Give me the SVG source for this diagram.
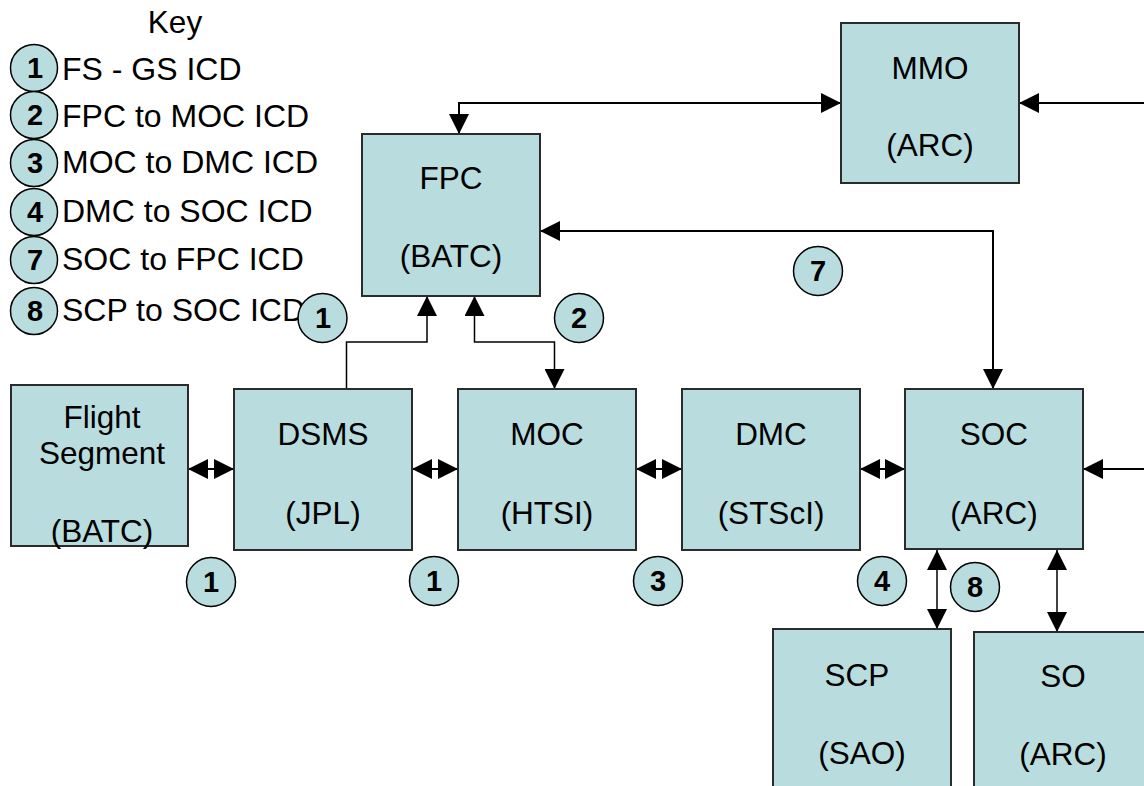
<svg xmlns="http://www.w3.org/2000/svg" width="1144" height="786" viewBox="0 0 1144 786">
<style>
  .box { fill: #B9DDDF; stroke: #2b2b2b; stroke-width: 2; }
  .t { font-family: "Liberation Sans", Arial, sans-serif; font-size: 31.5px; fill: #000; text-anchor: middle; }
  .k { font-family: "Liberation Sans", Arial, sans-serif; font-size: 32px; fill: #000; }
  .lc { fill: #B9DDDF; stroke: #000; stroke-width: 1.5; }
  .ln { font-family: "Liberation Sans", Arial, sans-serif; font-size: 29px; font-weight: bold; fill: #000; text-anchor: middle; }
  .c { fill: none; stroke: #000; stroke-width: 2; }
  .c2 { fill: none; stroke: #000; stroke-width: 1.5; }
</style>
<defs>
  <marker id="ah" markerUnits="userSpaceOnUse" markerWidth="20" markerHeight="20" refX="20" refY="10" orient="auto-start-reverse" viewBox="0 0 20 20">
    <path d="M0,0 L20,10 L0,20 Z" fill="#000"/>
  </marker>
</defs>
<rect width="1144" height="786" fill="#fff"/>

<g id="key">
  <text class="t" x="175" y="33">Key</text>
  <circle class="lc" cx="34" cy="68" r="23.5"/><text class="ln" x="35" y="78">1</text><text class="k" x="62" y="80">FS - GS ICD</text>
  <circle class="lc" cx="34" cy="115" r="23.5"/><text class="ln" x="35" y="125">2</text><text class="k" x="62" y="127">FPC to MOC ICD</text>
  <circle class="lc" cx="34" cy="163" r="23.5"/><text class="ln" x="35" y="173">3</text><text class="k" x="62" y="173">MOC to DMC ICD</text>
  <circle class="lc" cx="34" cy="212" r="23.5"/><text class="ln" x="35" y="222">4</text><text class="k" x="62" y="222">DMC to SOC ICD</text>
  <circle class="lc" cx="34" cy="260" r="23.5"/><text class="ln" x="35" y="270">7</text><text class="k" x="62" y="270">SOC to FPC ICD</text>
  <circle class="lc" cx="34" cy="311" r="23.5"/><text class="ln" x="35" y="321">8</text><text class="k" x="62" y="321">SCP to SOC ICD</text>
</g>

<g id="connectors">
  <line class="c" x1="188" y1="469" x2="234" y2="469" marker-start="url(#ah)" marker-end="url(#ah)"/>
  <line class="c" x1="412" y1="469" x2="458" y2="469" marker-start="url(#ah)" marker-end="url(#ah)"/>
  <line class="c" x1="636" y1="469" x2="682" y2="469" marker-start="url(#ah)" marker-end="url(#ah)"/>
  <line class="c" x1="860" y1="469" x2="905" y2="469" marker-start="url(#ah)" marker-end="url(#ah)"/>
  <line class="c" x1="1144" y1="469" x2="1083" y2="469" marker-end="url(#ah)"/>
  <line class="c" x1="1144" y1="103" x2="1019" y2="103" marker-end="url(#ah)"/>
  <path class="c" d="M459,134 L459,103 L841,103" marker-start="url(#ah)" marker-end="url(#ah)"/>
  <path class="c" d="M540,231 L993,231 L993,389" marker-start="url(#ah)" marker-end="url(#ah)"/>
  <path class="c2" d="M346.5,389 L346.5,342 L427,342 L427,296" marker-end="url(#ah)"/>
  <path class="c2" d="M474.5,296 L474.5,342 L554.5,342 L554.5,389" marker-start="url(#ah)" marker-end="url(#ah)"/>
  <line class="c2" x1="937" y1="550" x2="937" y2="629" marker-start="url(#ah)" marker-end="url(#ah)"/>
  <line class="c2" x1="1057" y1="550" x2="1057" y2="632" marker-start="url(#ah)" marker-end="url(#ah)"/>
</g>

<g id="mmo"><rect class="box" x="841" y="23" width="178" height="160"/><text class="t" x="930" y="79">MMO</text><text class="t" x="930" y="156">(ARC)</text></g>
<g id="fpc"><rect class="box" x="362" y="134" width="178" height="162"/><text class="t" x="451" y="189">FPC</text><text class="t" x="451" y="267">(BATC)</text></g>
<g id="flight-segment"><rect class="box" x="11" y="385" width="177" height="161"/><text class="t" x="102" y="428">Flight</text><text class="t" x="102" y="464">Segment</text><text class="t" x="102" y="542">(BATC)</text></g>
<g id="dsms"><rect class="box" x="234" y="389" width="178" height="161"/><text class="t" x="323" y="445">DSMS</text><text class="t" x="323" y="524">(JPL)</text></g>
<g id="moc"><rect class="box" x="458" y="389" width="178" height="161"/><text class="t" x="547" y="445">MOC</text><text class="t" x="547" y="524">(HTSI)</text></g>
<g id="dmc"><rect class="box" x="682" y="389" width="178" height="161"/><text class="t" x="771" y="445">DMC</text><text class="t" x="771" y="524">(STScI)</text></g>
<g id="soc"><rect class="box" x="905" y="389" width="178" height="160"/><text class="t" x="994" y="445">SOC</text><text class="t" x="994" y="524">(ARC)</text></g>
<g id="scp"><rect class="box" x="773" y="629" width="178" height="170"/><text class="t" x="857" y="686">SCP</text><text class="t" x="862" y="764">(SAO)</text></g>
<g id="so"><rect class="box" x="974" y="632" width="178" height="170"/><text class="t" x="1063" y="687">SO</text><text class="t" x="1063" y="765">(ARC)</text></g>

<g id="labels">
  <circle class="lc" cx="322.5" cy="318" r="24.5"/><text class="ln" x="323" y="328">1</text>
  <circle class="lc" cx="579" cy="318" r="24.5"/><text class="ln" x="579" y="328">2</text>
  <circle class="lc" cx="818" cy="271" r="24.5"/><text class="ln" x="818" y="281">7</text>
  <circle class="lc" cx="211" cy="582" r="24.5"/><text class="ln" x="211" y="592">1</text>
  <circle class="lc" cx="434" cy="581" r="24.5"/><text class="ln" x="434" y="591">1</text>
  <circle class="lc" cx="658" cy="581" r="24.5"/><text class="ln" x="658" y="591">3</text>
  <circle class="lc" cx="882" cy="581" r="24.5"/><text class="ln" x="882" y="591">4</text>
  <circle class="lc" cx="975" cy="587" r="24.5"/><text class="ln" x="975" y="597">8</text>
</g>
</svg>
